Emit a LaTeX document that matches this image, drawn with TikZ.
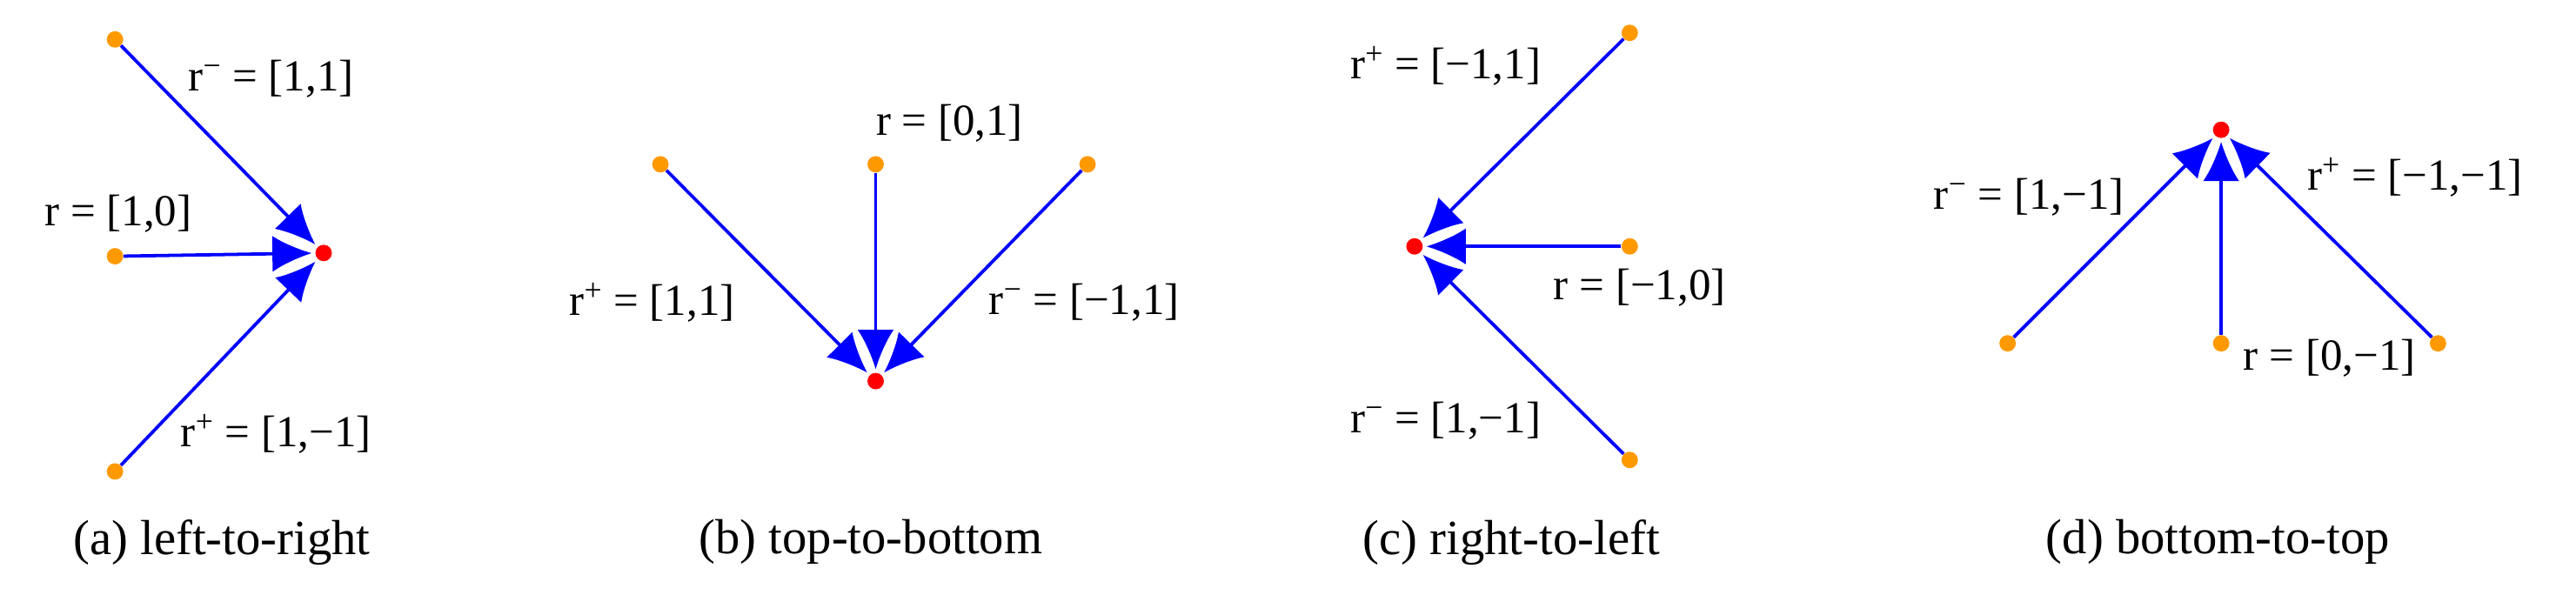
\documentclass[tikz,border=0pt]{standalone}
\usepackage{fontspec}
\setmainfont{Liberation Serif}
\usetikzlibrary{arrows.meta}
\begin{document}
\begin{tikzpicture}[x=1pt,y=-1pt,
 src/.style={circle,fill=orange!80!yellow,inner sep=0pt,minimum size=10pt},
 dst/.style={circle,fill=red,inner sep=0pt,minimum size=10pt},
 arr/.style={draw=blue,line width=2pt,-{Latex[length=24pt,width=22pt]},shorten >=2pt},
 lbl/.style={font=\fontsize{27}{30}\selectfont,inner sep=0pt},
 captext/.style={font=\fontsize{30}{34}\selectfont,inner sep=0pt}]
\useasboundingbox (0,0) rectangle (1568,362);
% (a)
\node[dst] (ar) at (197,154) {};
\node[src] (a1) at (70,24) {};
\node[src] (a2) at (70,156) {};
\node[src] (a3) at (70,287) {};
\draw[arr] (a1) -- (ar); \draw[arr] (a2) -- (ar); \draw[arr] (a3) -- (ar);
\node[lbl] (la1) at (165,48) {r\textsuperscript{−} = [1,1]};
\node[lbl] (la2) at (72,130) {r = [1,0]};
\node[lbl] (la3) at (168,264) {r\textsuperscript{+} = [1,−1]};
\node[captext] (ca) at (135,330) {(a) left-to-right};
% (b)
\node[dst] (br) at (533,232) {};
\node[src] (b1) at (402,100) {};
\node[src] (b2) at (533,100) {};
\node[src] (b3) at (662,100) {};
\draw[arr] (b1) -- (br); \draw[arr] (b2) -- (br); \draw[arr] (b3) -- (br);
\node[lbl] (lb2) at (578,75) {r = [0,1]};
\node[lbl] (lb1) at (397,184) {r\textsuperscript{+} = [1,1]};
\node[lbl] (lb3) at (660,184) {r\textsuperscript{−} = [−1,1]};
\node[captext] (cb) at (530,330) {(b) top-to-bottom};
% (c)
\node[dst] (cr) at (861,150) {};
\node[src] (c1) at (992,20) {};
\node[src] (c2) at (992,150) {};
\node[src] (c3) at (992,280) {};
\draw[arr] (c1) -- (cr); \draw[arr] (c2) -- (cr); \draw[arr] (c3) -- (cr);
\node[lbl] (lc1) at (880,40) {r\textsuperscript{+} = [−1,1]};
\node[lbl] (lc2) at (998,175) {r = [−1,0]};
\node[lbl] (lc3) at (880,256) {r\textsuperscript{−} = [1,−1]};
\node[captext] (cc) at (920,330) {(c) right-to-left};
% (d)
\node[dst] (dr) at (1352,79) {};
\node[src] (d1) at (1222,209) {};
\node[src] (d2) at (1352,209) {};
\node[src] (d3) at (1484,209) {};
\draw[arr] (d1) -- (dr); \draw[arr] (d2) -- (dr); \draw[arr] (d3) -- (dr);
\node[lbl] (ld1) at (1235,120) {r\textsuperscript{−} = [1,−1]};
\node[lbl] (ld3) at (1470,108) {r\textsuperscript{+} = [−1,−1]};
\node[lbl] (ld2) at (1418,218) {r = [0,−1]};
\node[captext] (cd) at (1350,330) {(d) bottom-to-top};
\end{tikzpicture}
\end{document}
